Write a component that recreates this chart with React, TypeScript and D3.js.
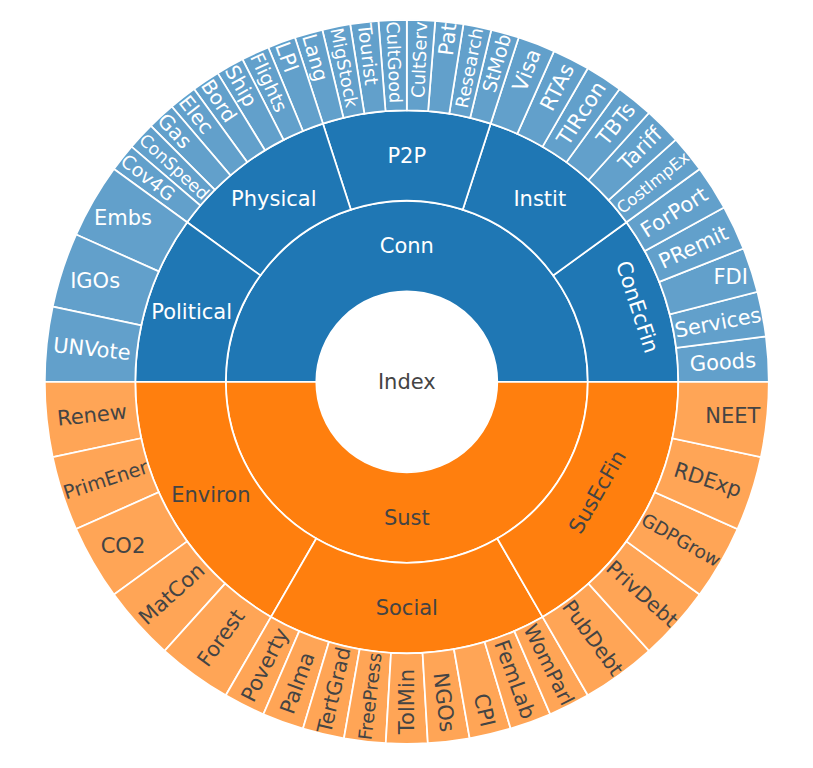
import { useMemo } from "react";
import * as d3 from "d3";

// hierarchy labels, in the order they are laid out (counterclockwise from 3 o'clock)
const rootLabel = "Index";
const groups = ["Conn", "Sust"];
const groupColors = ["#1f77b4", "#ff7f0e"];
const connBranches = ["ConEcFin", "Instit", "P2P", "Physical", "Political"];
const sustBranches = ["Environ", "Social", "SusEcFin"];

const conEcFinLeaves = ["Goods", "Services", "FDI", "PRemit", "ForPort"];
const institLeaves = ["CostImpEx", "Tariff", "TBTs", "TIRcon", "RTAs", "Visa"];
const p2pLeaves = ["StMob", "Research", "Pat", "CultServ", "CultGood", "Tourist", "MigStock", "Lang"];
const physicalLeaves = ["LPI", "Flights", "Ship", "Bord", "Elec", "Gas", "ConSpeed", "Cov4G"];
const politicalLeaves = ["Embs", "IGOs", "UNVote"];
const environLeaves = ["Renew", "PrimEner", "CO2", "MatCon", "Forest"];
const socialLeaves = ["Poverty", "Palma", "TertGrad", "FreePress", "TolMin", "NGOs", "CPI", "FemLab", "WomParl"];
const susEcFinLeaves = ["PubDebt", "PrivDebt", "GDPGrow", "RDExp", "NEET"];

const connLeaves = [conEcFinLeaves, institLeaves, p2pLeaves, physicalLeaves, politicalLeaves];
const sustLeaves = [environLeaves, socialLeaves, susEcFinLeaves];

type TreeNode = { name: string; children?: TreeNode[] };

const tree: TreeNode = {
    name: rootLabel,
    children: [
        { name: groups[0], children: connBranches.map((b, i) => ({ name: b, children: connLeaves[i].map((l) => ({ name: l })) })) },
        { name: groups[1], children: sustBranches.map((b, i) => ({ name: b, children: sustLeaves[i].map((l) => ({ name: l })) })) },
    ],
};

const width = 813;
const height = 768;
const cx = 406.8;
const cy = 381.8;
const outerR = 362;
const FS = 21;
const PAD = 5.25;
const FONT = '"DejaVu Sans", Verdana, sans-serif';

let ctx: CanvasRenderingContext2D | null = null;
function measure(s: string) {
    if (!ctx) {
        ctx = document.createElement("canvas").getContext("2d");
    }
    ctx!.font = `${FS}px ${FONT}`;
    return { w: ctx!.measureText(s).width, h: FS * 1.2 };
}

function calcMaxHalfSize(a: number, halfAngle: number, r: number, ring: number) {
    const q = a + 1 / (2 * Math.tan(halfAngle));
    return r * Math.min(1 / (Math.sqrt(q * q + 0.5) + q), ring / (Math.sqrt(a * a + ring / 2) + a));
}
const calcRotate = (t: number) => (((180 / Math.PI) * t + 720) % 180) - 90;
const calcRCenter = (a: number, b: number) => Math.cos(b) - a * b;

type Cell = { name: string; depth: number; x0: number; x1: number; color: string; group: number };

export default function App() {
    const cells = useMemo(() => {
        const out: Cell[] = [];
        const root = d3.hierarchy(tree);
        const walk = (n: d3.HierarchyNode<TreeNode>, x0: number, x1: number, group: number) => {
            const base = group < 0 ? "#ffffff" : groupColors[group];
            const color = n.children || group < 0 ? base : d3.interpolateRgb("#ffffff", base)(0.7);
            out.push({ name: n.data.name, depth: n.depth, x0, x1, color, group });
            const kids = n.children || [];
            const step = (x1 - x0) / (kids.length || 1);
            kids.forEach((k, i) => walk(k, x0 + i * step, x0 + (i + 1) * step, group < 0 ? i : group));
        };
        walk(root, 0, 1, -1);
        return out;
    }, []);

    const rScale = d3.scaleLinear().domain([0, 4]).range([0, outerR]);
    // counterclockwise from 3 o'clock
    const angle = d3.scaleLinear().domain([0, 1]).range([Math.PI / 2, Math.PI / 2 - 2 * Math.PI]);
    const arc = d3.arc<any>();

    const labelFor = (c: Cell) => {
        const tb = measure(c.name);
        if (c.depth === 0) return { x: cx, y: cy, rot: 0, fs: FS };
        const rpx0 = rScale(c.depth);
        const rpx1 = rScale(c.depth + 1);
        const ring = 1 - rpx0 / rpx1;
        const a0 = angle(c.x0);
        const a1 = angle(c.x1);
        const mid = (a0 + a1) / 2;
        const halfAngle = 0.5 * Math.min(Math.abs(a1 - a0), Math.PI);
        const rIns = Math.min(1 / (1 + 1 / Math.sin(halfAngle)), ring / 2);
        const diag = Math.hypot(tb.w, tb.h);
        let best = { scale: (rIns * rpx1 * 2) / diag, rCenter: 1 - rIns, rotate: 0 };
        if (best.scale < 1) {
            const rr = Math.max(0, rpx1 - 2 * PAD);
            const aR = tb.w / tb.h;
            const sR = calcMaxHalfSize(aR, halfAngle, rr, ring);
            const rad = { scale: (sR * 2) / tb.h, rCenter: calcRCenter(aR, sR / rr), rotate: calcRotate(mid) };
            const aT = tb.h / tb.w;
            const sT = calcMaxHalfSize(aT, halfAngle, rr, ring);
            const tan = { scale: (sT * 2) / tb.w, rCenter: calcRCenter(aT, sT / rr), rotate: calcRotate(mid + Math.PI / 2) };
            [rad, tan].forEach((t) => {
                if (t.scale > best.scale) best = t;
            });
        }
        const rc = rpx1 * best.rCenter;
        return {
            x: cx + rc * Math.sin(mid),
            y: cy - rc * Math.cos(mid),
            rot: best.rotate,
            fs: FS * Math.min(1, best.scale),
        };
    };

    return (
        <div style={{ position: "absolute", left: 0, top: 0 }}>
            <svg width={width} height={height} style={{ display: "block", background: "#fff" }}>
                <g transform={`translate(${cx}, ${cy})`}>
                    {cells.map((c, i) =>
                        c.depth === 0 ? (
                            <circle key={i} r={rScale(1)} fill="#fff" stroke="#fff" strokeWidth={1.75} />
                        ) : (
                            <path
                                key={i}
                                d={
                                    arc({
                                        innerRadius: rScale(c.depth),
                                        outerRadius: rScale(c.depth + 1),
                                        startAngle: Math.min(angle(c.x0), angle(c.x1)),
                                        endAngle: Math.max(angle(c.x0), angle(c.x1)),
                                    }) || undefined
                                }
                                fill={c.color}
                                stroke="#fff"
                                strokeWidth={1.75}
                            />
                        )
                    )}
                </g>
                {cells.map((c, i) => {
                    const l = labelFor(c);
                    const fill = c.group === 0 ? "#fff" : "#444";
                    return (
                        <text
                            key={"t" + i}
                            transform={`translate(${l.x}, ${l.y}) rotate(${l.rot})`}
                            textAnchor="middle"
                            dy="0.35em"
                            fontFamily={FONT}
                            fontSize={l.fs}
                            fill={fill}
                        >
                            {c.name}
                        </text>
                    );
                })}
            </svg>
        </div>
    );
}
